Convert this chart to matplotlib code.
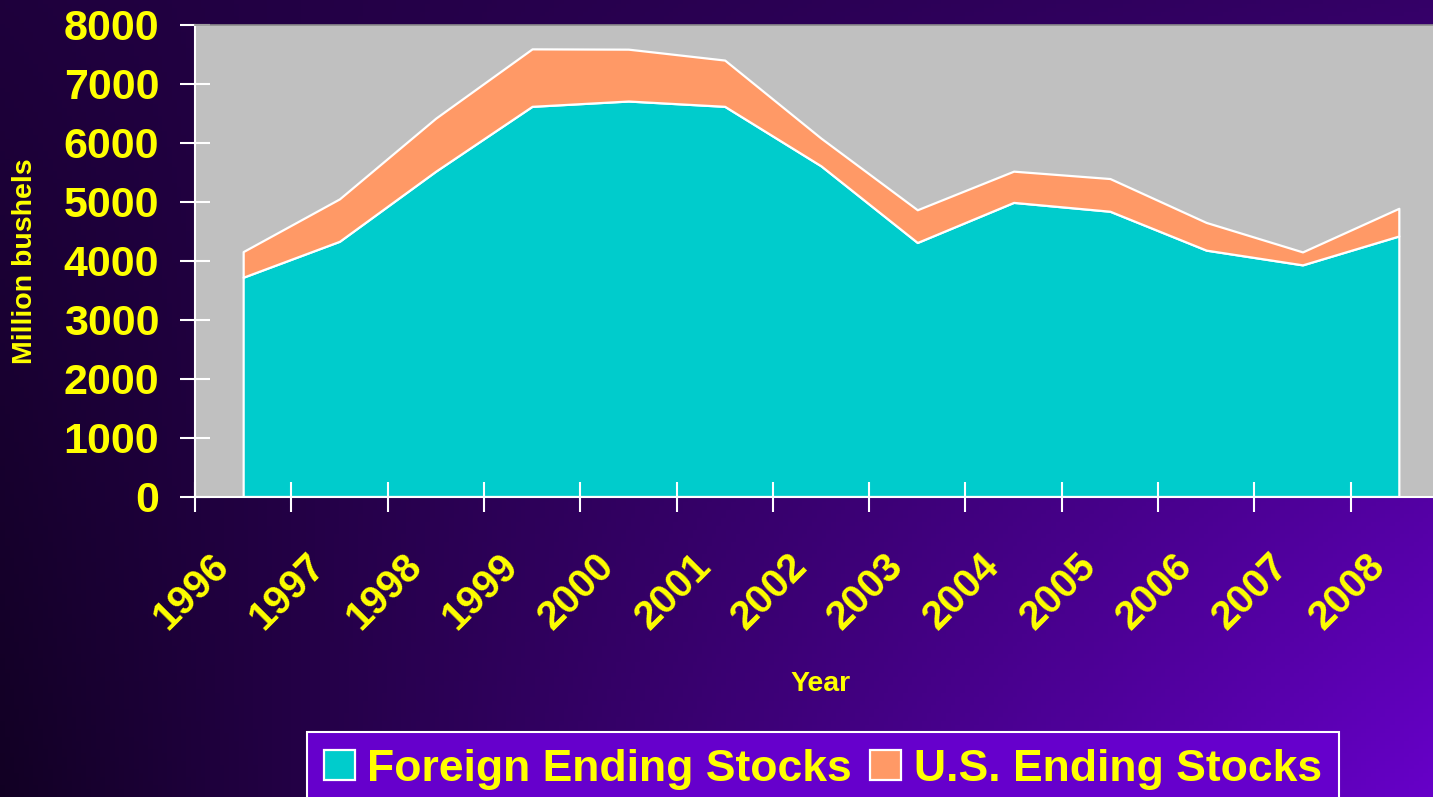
import numpy as np
import matplotlib
matplotlib.use("Agg")
import matplotlib.pyplot as plt
import matplotlib.ticker as ticker
from matplotlib.transforms import ScaledTranslation

plt.rcParams['font.family'] = ['Liberation Sans', 'DejaVu Sans']
plt.rcParams['font.weight'] = 'bold'

# data (million bushels)
years = ['1996', '1997', '1998', '1999', '2000', '2001', '2002',
         '2003', '2004', '2005', '2006', '2007', '2008']
foreign_stocks = [3720, 4330, 5520, 6620, 6710, 6620, 5610, 4310, 4990, 4840, 4180, 3930, 4420]
us_stocks = [435, 720, 900, 975, 880, 785, 470, 555, 530, 555, 470, 220, 470]
series_names = ['Foreign Ending Stocks', 'U.S. Ending Stocks']

W, H = 1433, 797
fig = plt.figure(figsize=(W / 100, H / 100), dpi=100)

# purple gradient background
bg = fig.add_axes([0, 0, 1, 1], zorder=-10)
gx, gy = np.meshgrid(np.linspace(0, 1, 300), np.linspace(0, 1, 200))
t = np.clip(0.14 + 0.25 * gx - 0.14 * gy + 0.7 * gx * gy, 0, 1)
dark = np.array([0.07, 0.0, 0.14])
bright = np.array([0.42, 0.0, 0.82])
img = dark + (bright - dark) * t[..., None]
bg.imshow(img, aspect='auto', extent=[0, 1, 0, 1], origin='upper')
bg.axis('off')

# plot area: x from 195 px, axis runs off the right edge of the figure
left, right = 195, 1447
top, bottom = 25, 496.5
ax = fig.add_axes([left / W, 1 - bottom / H, (right - left) / W, (bottom - top) / H])
ax.set_facecolor('#C0C0C0')

x = np.arange(len(years))
ax.stackplot(x, foreign_stocks, us_stocks, labels=series_names,
             colors=['#00CCCC', '#FF9966'], edgecolor='white', linewidth=1.6)

ax.set_xlim(-0.5, len(years) - 0.5)
ax.set_ylim(0, 8000)

yel = '#FFFF00'
ax.yaxis.set_major_locator(ticker.MultipleLocator(1000))
ax.tick_params(axis='y', direction='inout', length=21.6, width=1.5, color='white',
               labelsize=31, labelcolor=yel, pad=15)

ax.set_xticks(np.arange(-0.5, len(years), 1))
ax.set_xticklabels([])
ax.set_xticks(x, labels=years, minor=True)
ax.tick_params(axis='x', which='major', direction='inout', length=21.6, width=1.5, color='white')
ax.tick_params(axis='x', which='minor', length=0, labelsize=29, labelcolor=yel, pad=46)
shift = ScaledTranslation(-0.2, 0, fig.dpi_scale_trans)
for lbl in ax.get_xticklabels(minor=True):
    lbl.set_rotation(45)
    lbl.set_ha('right')
    lbl.set_va('center')
    lbl.set_rotation_mode('anchor')
    lbl.set_transform(lbl.get_transform() + shift)

for s in ['left', 'bottom']:
    ax.spines[s].set_color('white')
    ax.spines[s].set_linewidth(1.5)
ax.spines['top'].set_color('#8C8C8C')
ax.spines['top'].set_linewidth(1.2)
ax.spines['right'].set_visible(False)

ax.set_xlabel('Year', fontsize=20.5, fontweight='bold', color=yel, va='center')
ax.xaxis.set_label_coords(0.5, -(684 - bottom) / (bottom - top))
ax.set_ylabel('Million bushels', fontsize=20.5, fontweight='bold', color=yel, va='center')
ax.yaxis.set_label_coords(-(left - 25) / (right - left), 0.5)

leg = fig.legend(loc='upper left', bbox_to_anchor=(307 / W, 1 - 732 / H), ncol=2,
                 frameon=True, fancybox=False, facecolor='#6600CC', edgecolor='white',
                 framealpha=1, fontsize=32, labelcolor=yel, handlelength=0.7,
                 handleheight=0.65, handletextpad=0.28, columnspacing=0.4,
                 borderpad=0.38, borderaxespad=0)
leg.get_frame().set_linewidth(1.5)

fig.savefig('out.png', dpi=100)
